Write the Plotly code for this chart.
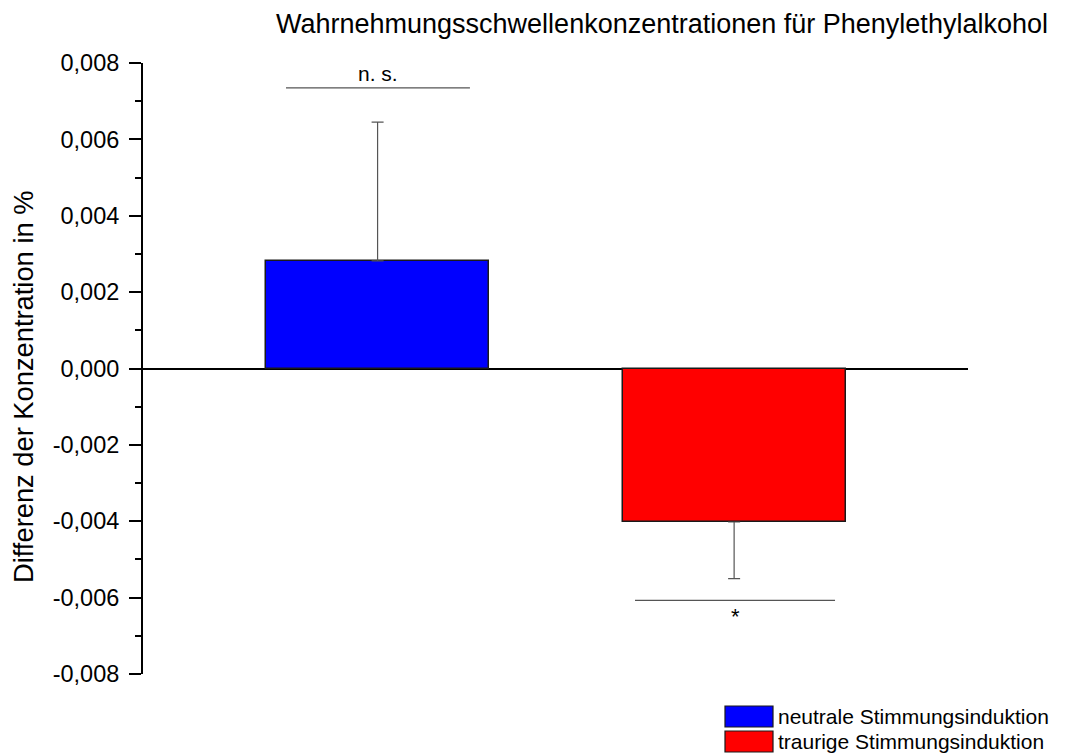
import plotly.graph_objects as go

# Data
categories = ["neutrale Stimmungsinduktion", "traurige Stimmungsinduktion"]
positions = [1, 2]
values = [0.00282, -0.00402]
err_plus = [0.00363, 0.0]
err_minus = [0.0, 0.00148]
colors = ["#0000FF", "#FF0000"]
sig_labels = ["n. s.", "*"]
sig_levels = [0.00735, -0.00607]
y_ticks = [-0.008, -0.006, -0.004, -0.002, 0.0, 0.002, 0.004, 0.006, 0.008]
y_ticktext = ["-0,008", "-0,006", "-0,004", "-0,002", "0,000", "0,002", "0,004", "0,006", "0,008"]
title_text = "Wahrnehmungsschwellenkonzentrationen für Phenylethylalkohol"
y_title = "Differenz der Konzentration in %"

FONT = "Liberation Sans, Arial, sans-serif"
bar_width = 0.6255

# page is offset by the default 8px body margin
OFF = 8
W, H = 1067 - OFF, 755 - OFF
PL, PR, PT, PB = 143, 968, 63, 674  # plot area in page pixels


def py(pix):
    return (PB - pix) / (PB - PT)


def px(pix):
    return (pix - PL) / (PR - PL)


fig = go.Figure()
for i in range(2):
    fig.add_trace(go.Bar(
        x=[positions[i]], y=[values[i]], name=categories[i],
        width=bar_width,
        marker=dict(color=colors[i], line=dict(color="#1a1a1a", width=1.5)),
        error_y=dict(type="data", symmetric=False, array=[err_plus[i]],
                     arrayminus=[err_minus[i]], color="#555555",
                     thickness=1.2, width=6),
        showlegend=False,
    ))

# significance lines
sig_half = [0.258, 0.2805]
sig_center = [1.001, 2.0025]
for i in range(2):
    fig.add_shape(type="line", xref="x", yref="y",
                  x0=sig_center[i] - sig_half[i], x1=sig_center[i] + sig_half[i],
                  y0=sig_levels[i], y1=sig_levels[i],
                  line=dict(color="#555555", width=1.2))
fig.add_annotation(x=sig_center[0], y=sig_levels[0], xref="x", yref="y",
                   text=sig_labels[0], showarrow=False, yanchor="bottom", yshift=1,
                   font=dict(family=FONT, size=21, color="black"))
fig.add_annotation(x=sig_center[1], y=sig_levels[1], xref="x", yref="y",
                   text=sig_labels[1], showarrow=False, yanchor="top", yshift=-2,
                   font=dict(family=FONT, size=22, color="black"))

# title
fig.add_annotation(x=px(274), y=py(24), xref="paper", yref="paper",
                   text=title_text, showarrow=False, xanchor="left", yanchor="middle",
                   font=dict(family=FONT, size=27, color="black"))

# y axis title
fig.add_annotation(x=px(23), y=py(387), xref="paper", yref="paper",
                   text=y_title, showarrow=False, textangle=-90,
                   xanchor="center", yanchor="middle",
                   font=dict(family=FONT, size=27.3, color="black"))

# custom legend
leg_top = [706, 731]
leg_h = 21
for i in range(2):
    fig.add_shape(type="rect", xref="paper", yref="paper",
                  x0=px(725), x1=px(773), y0=py(leg_top[i] + leg_h), y1=py(leg_top[i]),
                  fillcolor=colors[i], line=dict(color="#1a1a1a", width=1.2))
    fig.add_annotation(x=px(777), y=py(leg_top[i] + 10.5), xref="paper", yref="paper",
                       text=categories[i], showarrow=False, xanchor="left", yanchor="middle",
                       borderpad=0,
                       font=dict(family=FONT, size=21, color="black"))

fig.update_layout(
    width=W, height=H,
    margin=dict(l=PL - OFF, r=W - (PR - OFF), t=PT - OFF, b=H - (PB - OFF)),
    paper_bgcolor="white", plot_bgcolor="white",
    font=dict(family=FONT, size=23.5, color="black"),
    xaxis=dict(range=[0.342, 2.656], showgrid=False, zeroline=False,
               showline=False, showticklabels=False, ticks=""),
    yaxis=dict(range=[-0.008, 0.008], tickvals=y_ticks, ticktext=y_ticktext,
               showgrid=False, showline=True, linecolor="black", linewidth=2,
               ticks="outside", ticklen=12, tickwidth=2, tickcolor="black",
               ticklabelstandoff=5,
               minor=dict(dtick=0.001, ticks="outside", ticklen=6, tickwidth=2, tickcolor="black"),
               zeroline=True, zerolinecolor="black", zerolinewidth=2,
               tickfont=dict(family=FONT, size=23.5, color="black")),
    bargap=0,
)

fig.write_html("out.html")
